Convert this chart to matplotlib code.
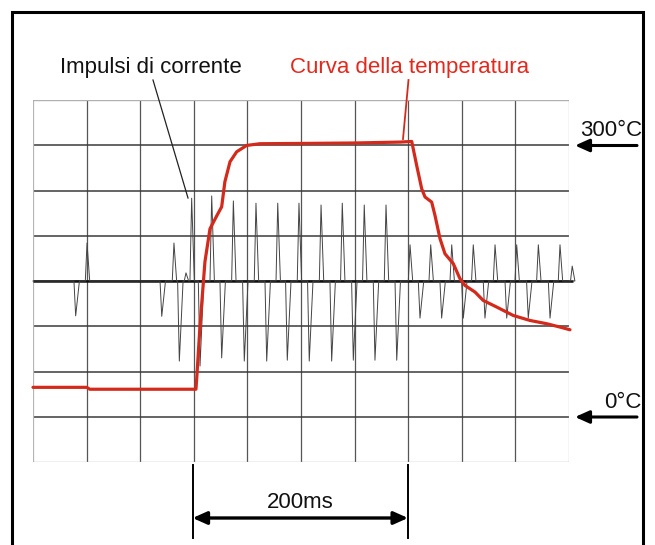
import numpy as np
import matplotlib
matplotlib.use('Agg')
import matplotlib.pyplot as plt
from matplotlib.lines import Line2D
from matplotlib.patches import Rectangle

plt.rcParams['font.family'] = ['Liberation Sans', 'DejaVu Sans']

# temperature trace: time [ms] vs temperature [deg C]
temp_t = [0, 50, 53, 152, 152.7, 155.8, 160.4, 165.1, 171.4, 176, 179, 183.8,
          190, 199.3, 211.8, 250, 300, 342.4, 353.3, 357.9, 362.6, 365.7, 371.9,
          375, 379.7, 384.3, 392.1, 398.3, 403, 412.3, 420, 432.6, 448, 463.6,
          479.2, 491.6, 500.9]
temp_c = [32.5, 32.5, 30.4, 30.4, 42, 100.6, 171.3, 207.7, 222, 232, 259.7, 281.8,
          292.8, 299.8, 301.7, 302, 302.5, 303.5, 304.2, 277.7, 251.9, 242.8, 237.2,
          222.4, 196.7, 180.1, 169.1, 152.5, 145.1, 137.8, 128.5, 121.2, 111.9, 106.4,
          102.8, 99.1, 96.1]

# current pulses: peak time [ms] and amplitude [divisions]
pulse_t = [39.8, 50.4, 120.1, 131.5, 136.5, 142.7, 148.0, 155.8, 166.7, 176.0,
           186.9, 197.1, 208.0, 218.0, 228.3, 237.2, 248.1, 257.7, 268.7, 278.6,
           288.5, 298.8, 309.0, 319.0, 329.3, 339.3, 351.7, 361.0, 371.0, 381.2,
           390.6, 401.4, 410.7, 421.6, 431.0, 441.9, 451.2, 462.0, 471.4, 482.3,
           491.6, 503.0]
pulse_a = [-0.77, 0.84, -0.78, 0.84, -1.77, 0.18, 1.83, -1.88, 1.88, -1.70,
           1.77, -1.77, 1.72, -1.77, 1.72, -1.75, 1.72, -1.77, 1.68, -1.77,
           1.72, -1.75, 1.68, -1.75, 1.68, -1.75, 0.80, -0.82, 0.80, -0.82,
           0.80, -0.82, 0.80, -0.82, 0.80, -0.82, 0.80, -0.82, 0.80, -0.82,
           0.80, 0.33]

W, H = 655, 545


def P(x, y):
    """pixel position measured from the top-left corner -> figure pixels"""
    return (x, H - y)


fig = plt.figure(figsize=(6.55, 5.45), dpi=100)
fig.patch.set_facecolor('white')

# outer frame (open at the bottom edge)
fig.add_artist(Rectangle((12 / W, -0.1), (643 - 12) / W, 1.1 - 12 / H,
                         transform=fig.transFigure, fill=False,
                         edgecolor='black', lw=2.2))

gx0, gx1, gy0, gy1 = 33, 569, 100, 462
pos = [gx0 / W, 1 - gy1 / H, (gx1 - gx0) / W, (gy1 - gy0) / H]

ax_cur = fig.add_axes(pos)
ax_cur.set_xlim(0, 500)
ax_cur.set_ylim(-4, 4)
ax_cur.axis('off')

# oscilloscope graticule
for x in range(50, 500, 50):
    ax_cur.axvline(x, color='#555555', lw=0.9, zorder=1)
for y in range(-3, 4):
    ax_cur.axhline(y, color='#3a3a3a', lw=1.1, zorder=1)
for x in (0, 500):
    ax_cur.axvline(x, color='#b5b5b5', lw=0.9, zorder=1)
for y in (-4, 4):
    ax_cur.axhline(y, color='#b0b0b0', lw=1.0, zorder=1)

# build the current trace from the pulse list
xs, ys = [0.0], [0.0]
for t, a in zip(pulse_t, pulse_a):
    rise = 1.6
    fall = 2.5 if a > 0 else 3.5
    xs += [t - rise, t, t + fall]
    ys += [0.0, a, 0.0]
xs.append(504.0)
ys.append(0.0)

ax_cur.plot([0, 504], [0, 0], color='#111111', lw=1.8, zorder=2, clip_on=False,
            solid_capstyle='butt')
ax_cur.plot(xs, ys, color='#444444', lw=0.7, zorder=3, clip_on=False)

# temperature axis on top: 0 deg C at one division above the bottom, 50 deg C/div
ax_temp = ax_cur.twinx()
ax_temp.set_ylim(-50, 350)
ax_temp.set_xlim(0, 500)
ax_temp.axis('off')
ax_temp.plot(temp_t, temp_c, color='#d42a1c', lw=2.3, solid_joinstyle='round',
             solid_capstyle='round', clip_on=False, zorder=5)

# labels
fig.text(60 / W, 1 - 72.5 / H, 'Impulsi di corrente', fontsize=16,
         color='#111111', ha='left', va='baseline')
fig.text(290 / W, 1 - 72.5 / H, 'Curva della temperatura', fontsize=16,
         color='#e3291d', ha='left', va='baseline')
fig.text(580 / W, 1 - 136 / H, '300°C', fontsize=16, color='#111111',
         ha='left', va='baseline')
fig.text(604 / W, 1 - 408.5 / H, '0°C', fontsize=16, color='#111111',
         ha='left', va='baseline')
fig.text(300 / W, 1 - 508 / H, '200ms', fontsize=16, color='#111111',
         ha='center', va='baseline')

# leader lines
fig.add_artist(Line2D([153 / W, 188 / W], [1 - 80 / H, 1 - 198 / H],
                      color='#222222', lw=0.9))
fig.add_artist(Line2D([408.5 / W, 403 / W], [1 - 80 / H, 1 - 139 / H],
                      color='#d42a1c', lw=1.3))

# level markers
head = '-|>,head_length=0.85,head_width=0.38'
for yy in (145.5, 417):
    ax_cur.annotate('', xy=P(575, yy), xytext=P(637, yy),
                    xycoords='figure pixels', textcoords='figure pixels',
                    arrowprops=dict(arrowstyle=head, lw=2.2, color='black',
                                    shrinkA=0, shrinkB=0))

# 200 ms dimension
for xx in (192.6, 408):
    fig.add_artist(Line2D([xx / W, xx / W], [1 - 465 / H, 1 - 538 / H],
                          color='black', lw=1.4))
ax_cur.annotate('', xy=P(192.6, 518), xytext=P(408, 518),
                xycoords='figure pixels', textcoords='figure pixels',
                arrowprops=dict(arrowstyle='<|-|>,head_length=0.85,head_width=0.38',
                                lw=2.4, color='black', shrinkA=0, shrinkB=0))

fig.savefig('out.png', dpi=100, facecolor='white')
